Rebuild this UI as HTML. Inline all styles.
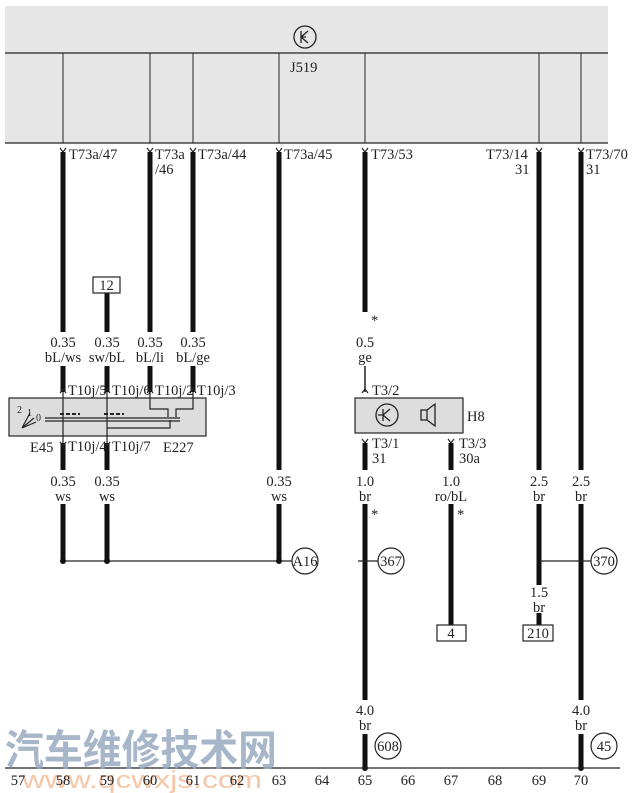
<!DOCTYPE html>
<html><head><meta charset="utf-8"><style>
html,body{margin:0;padding:0;background:#fff;}
svg{display:block;}
text{font-family:"Liberation Serif",serif;font-size:14.5px;fill:#222;}
</style></head><body>
<svg width="640" height="793" viewBox="0 0 640 793" xmlns="http://www.w3.org/2000/svg">
<rect x="5" y="6" width="603" height="137" fill="#e6e6e6"/>
<line x1="5" y1="53" x2="608" y2="53" stroke="#222" stroke-width="1.2"/>
<line x1="5" y1="143" x2="608" y2="143" stroke="#222" stroke-width="1.2"/>
<circle cx="305" cy="37" r="11" fill="none" stroke="#222" stroke-width="1.3"/>
<path d="M301 31v12M301 37h5M301 37l7-6M301 37l7 6" stroke="#222" stroke-width="1.3" fill="none"/>
<text x="290" y="72">J519</text>
<g stroke="#222" stroke-width="1">
<line x1="63" y1="53" x2="63" y2="143"/><line x1="150" y1="53" x2="150" y2="143"/><line x1="193" y1="53" x2="193" y2="143"/><line x1="279" y1="53" x2="279" y2="143"/><line x1="365" y1="53" x2="365" y2="143"/><line x1="539" y1="53" x2="539" y2="143"/><line x1="581" y1="53" x2="581" y2="143"/>
</g>
<g fill="none" stroke="#222" stroke-width="1.2">
<path d="M60 148l3 4 3-4"/><path d="M147 148l3 4 3-4"/><path d="M190 148l3 4 3-4"/><path d="M276 148l3 4 3-4"/><path d="M362 148l3 4 3-4"/><path d="M536 148l3 4 3-4"/><path d="M578 148l3 4 3-4"/>
</g>
<text x="69" y="159">T73a/47</text>
<text x="155" y="159">T73a</text><text x="155" y="174">/46</text>
<text x="198" y="159">T73a/44</text>
<text x="284" y="159">T73a/45</text>
<text x="371" y="159">T73/53</text>
<text x="486" y="159">T73/14</text><text x="515" y="174">31</text>
<text x="586" y="159">T73/70</text><text x="586" y="174">31</text>
<g stroke="#111" stroke-width="5">
<line x1="63" y1="152" x2="63" y2="332"/><line x1="63" y1="366" x2="63" y2="392"/><line x1="63" y1="443" x2="63" y2="470"/><line x1="63" y1="504" x2="63" y2="561"/>
<line x1="107" y1="293" x2="107" y2="332"/><line x1="107" y1="366" x2="107" y2="392"/><line x1="107" y1="443" x2="107" y2="470"/><line x1="107" y1="504" x2="107" y2="561"/>
<line x1="150" y1="152" x2="150" y2="332"/><line x1="150" y1="366" x2="150" y2="392"/>
<line x1="193" y1="152" x2="193" y2="332"/><line x1="193" y1="366" x2="193" y2="392"/>
<line x1="279" y1="152" x2="279" y2="470"/><line x1="279" y1="504" x2="279" y2="561"/>
<line x1="365" y1="152" x2="365" y2="312"/>
<line x1="365" y1="443" x2="365" y2="470"/><line x1="365" y1="504" x2="365" y2="700"/><line x1="365" y1="734" x2="365" y2="769"/>
<line x1="451" y1="443" x2="451" y2="470"/><line x1="451" y1="504" x2="451" y2="625"/>
<line x1="539" y1="152" x2="539" y2="470"/><line x1="539" y1="504" x2="539" y2="585"/><line x1="539" y1="613" x2="539" y2="625"/>
<line x1="581" y1="152" x2="581" y2="470"/><line x1="581" y1="504" x2="581" y2="700"/><line x1="581" y1="734" x2="581" y2="769"/>
</g>
<line x1="365" y1="366" x2="365" y2="392" stroke="#222" stroke-width="1.5"/>
<rect x="93" y="277" width="27" height="16" fill="#fff" stroke="#222" stroke-width="1.2"/><text x="106.5" y="290" text-anchor="middle">12</text>
<g text-anchor="middle">
<text x="63" y="347">0.35</text><text x="63" y="362">bL/ws</text>
<text x="107" y="347">0.35</text><text x="107" y="362">sw/bL</text>
<text x="150" y="347">0.35</text><text x="150" y="362">bL/li</text>
<text x="193" y="347">0.35</text><text x="193" y="362">bL/ge</text>
<text x="365" y="347">0.5</text><text x="365" y="362">ge</text>
<text x="63" y="486">0.35</text><text x="63" y="501">ws</text>
<text x="107" y="486">0.35</text><text x="107" y="501">ws</text>
<text x="279" y="486">0.35</text><text x="279" y="501">ws</text>
<text x="365" y="486">1.0</text><text x="365" y="501">br</text>
<text x="451" y="486">1.0</text><text x="451" y="501">ro/bL</text>
<text x="539" y="486">2.5</text><text x="539" y="501">br</text>
<text x="581" y="486">2.5</text><text x="581" y="501">br</text>
<text x="539" y="597">1.5</text><text x="539" y="612">br</text>
<text x="365" y="715">4.0</text><text x="365" y="730">br</text>
<text x="581" y="715">4.0</text><text x="581" y="730">br</text>
</g>
<text x="371" y="325">*</text><text x="371" y="519">*</text><text x="457" y="519">*</text>
<rect x="9" y="398" width="197" height="38" fill="#ddd" stroke="#222" stroke-width="1.2"/>
<g fill="none" stroke="#222" stroke-width="1.2">
<path d="M60 393l3-4 3 4"/><path d="M104 393l3-4 3 4"/><path d="M147 393l3-4 3 4"/><path d="M190 393l3-4 3 4"/>
<path d="M60 442l3 4 3-4"/><path d="M104 442l3 4 3-4"/>
<line x1="63" y1="392" x2="63" y2="443"/><line x1="107" y1="392" x2="107" y2="443"/>
<path d="M150 392v17h18v8M193 392v17h-17v8"/>
<line x1="45" y1="418" x2="180" y2="418"/><line x1="45" y1="421" x2="180" y2="421"/>
<path d="M107 428h63v-8"/>
<path d="M22 428l8-15M22 428l12-10M22 428l14-6"/>
</g>
<g stroke="#222" stroke-width="2"><line x1="60" y1="414" x2="80" y2="414" stroke-dasharray="4 2"/><line x1="104" y1="414" x2="124" y2="414" stroke-dasharray="4 2"/></g>
<text x="17" y="413" style="font-size:10px">2</text><text x="27" y="416" style="font-size:10px">1</text><text x="36" y="421" style="font-size:10px">0</text>
<g style="font-size:13.5px">
<text x="68" y="395">T10j/5</text><text x="112" y="395">T10j/6</text><text x="155" y="395">T10j/2</text><text x="197" y="395">T10j/3</text>
<text x="68" y="451">T10j/4</text><text x="112" y="451">T10j/7</text>
</g>
<text x="30" y="452">E45</text><text x="163" y="452">E227</text>
<rect x="355" y="398" width="108" height="35" fill="#ddd" stroke="#222" stroke-width="1.2"/>
<path d="M362 393l3-4 3 4M362 439l3 4 3-4M448 439l3 4 3-4" fill="none" stroke="#222" stroke-width="1.2"/>
<circle cx="387" cy="415" r="11" fill="none" stroke="#222" stroke-width="1.3"/>
<path d="M383 409v12M383 415h-5M383 415l7-6M383 415l7 6" stroke="#222" stroke-width="1.3" fill="none"/>
<path d="M421 410h6v10h-6zM427 410l8-6v22l-8-6" fill="none" stroke="#222" stroke-width="1.3"/>
<text x="467" y="421">H8</text>
<text x="372" y="395">T3/2</text>
<text x="372" y="448">T3/1</text><text x="372" y="463">31</text>
<text x="459" y="448">T3/3</text><text x="459" y="463">30a</text>
<line x1="63" y1="561" x2="292" y2="561" stroke="#222" stroke-width="1.2"/>
<circle cx="63" cy="561" r="3" fill="#111"/><circle cx="107" cy="561" r="3" fill="#111"/><circle cx="279" cy="561" r="3" fill="#111"/>
<circle cx="305" cy="561" r="13" fill="#fff" stroke="#222" stroke-width="1.2"/><text x="305" y="566" text-anchor="middle">A16</text>
<line x1="358" y1="561" x2="378" y2="561" stroke="#222" stroke-width="1.2"/>
<circle cx="391" cy="561" r="13" fill="#fff" stroke="#222" stroke-width="1.2"/><text x="391" y="566" text-anchor="middle">367</text>
<line x1="539" y1="561" x2="591" y2="561" stroke="#222" stroke-width="1.2"/>
<circle cx="604" cy="561" r="13" fill="#fff" stroke="#222" stroke-width="1.2"/><text x="604" y="566" text-anchor="middle">370</text>
<rect x="437" y="625" width="29" height="16" fill="#fff" stroke="#222" stroke-width="1.2"/><text x="451" y="638" text-anchor="middle">4</text>
<rect x="523" y="625" width="30" height="16" fill="#fff" stroke="#222" stroke-width="1.2"/><text x="538" y="638" text-anchor="middle">210</text>
<circle cx="388" cy="746" r="13" fill="#fff" stroke="#222" stroke-width="1.2"/><text x="388" y="751" text-anchor="middle">608</text>
<circle cx="604" cy="746" r="13" fill="#fff" stroke="#222" stroke-width="1.2"/><text x="604" y="751" text-anchor="middle">45</text>
<circle cx="365" cy="768" r="3" fill="#111"/><circle cx="581" cy="768" r="3" fill="#111"/>
<line x1="5" y1="768" x2="620" y2="768" stroke="#222" stroke-width="1.2"/>
<text x="5" y="765" textLength="272" lengthAdjust="spacingAndGlyphs" style="font-family:'Noto Sans CJK SC',sans-serif;font-size:42px;font-weight:bold;fill:#98abc0;opacity:0.85">汽车维修技术网</text>
<text x="22" y="788" textLength="240" lengthAdjust="spacingAndGlyphs" style="font-family:'Liberation Sans',sans-serif;font-size:24px;fill:#f2b48a;opacity:0.75">www.qcwxjs.com</text>
<g text-anchor="middle">
<text x="18" y="785">57</text><text x="63" y="785">58</text><text x="107" y="785">59</text><text x="150" y="785">60</text><text x="193" y="785">61</text><text x="237" y="785">62</text><text x="279" y="785">63</text><text x="322" y="785">64</text><text x="365" y="785">65</text><text x="408" y="785">66</text><text x="451" y="785">67</text><text x="495" y="785">68</text><text x="539" y="785">69</text><text x="581" y="785">70</text>
</g>
</svg>
</body></html>
